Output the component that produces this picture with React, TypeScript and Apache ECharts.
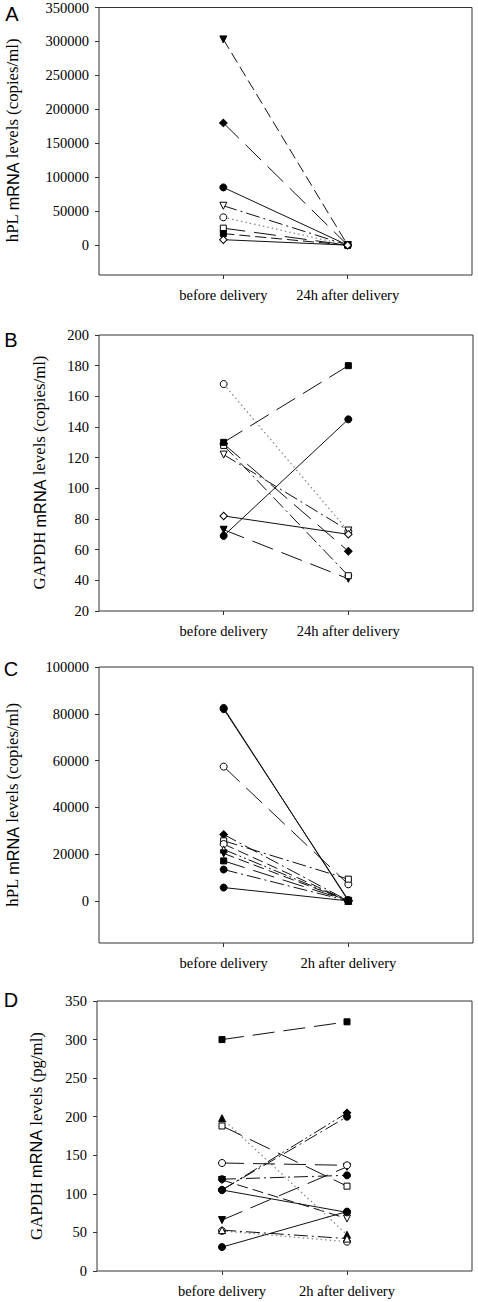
import React, { useEffect, useRef } from "react";
import * as echarts from "echarts";

// ---------- data ----------
const CATS_24H = ["before delivery", "24h after delivery"];
const CATS_2H = ["before delivery", "2h after delivery"];

// Panel A: hPL mRNA (copies/ml), before vs 24h after delivery
const A_BEFORE = [303000, 180000, 85000, 58000, 41000, 25000, 17000, 8000];
const A_AFTER = [0, 0, 0, 0, 0, 0, 0, 0];
const A_TICKS = [0, 50000, 100000, 150000, 200000, 250000, 300000, 350000];

// Panel B: GAPDH mRNA (copies/ml), before vs 24h after delivery
const B_BEFORE = [73, 129, 128, 168, 122, 82, 130, 69];
const B_AFTER = [41, 59, 43, 72, 72.5, 70, 180, 145];

// Panel C: hPL mRNA (copies/ml), before vs 2h after delivery
const C_BEFORE = [82500, 82000, 57400, 28400, 25700, 24300, 22000, 20300, 17100, 13400, 5700];
const C_AFTER = [0, 400, 7100, 0, 9300, 0, 0, 0, 0, 0, 0];
const C_TICKS = [0, 20000, 40000, 60000, 80000, 100000];

// Panel D: GAPDH mRNA (pg/ml), before vs 2h after delivery
const D_BEFORE = [66, 118, 105, 300, 198, 188, 140, 119, 105, 105, 52, 53, 31];
const D_AFTER = [135, 68, 76, 323, 47, 110, 137, 124, 205, 200, 38, 42, 77];

// ---------- styles (marker shape, fill, line pattern) ----------
type St = [string, boolean, string];
const A_STYLE: St[] = [
  ["triDown", true, "dash"],
  ["diamond", true, "longDash"],
  ["circle", true, "solid"],
  ["triDown", false, "dashDot"],
  ["circle", false, "dotted"],
  ["square", false, "longDash"],
  ["square", true, "dash"],
  ["diamond", false, "solid"],
];
const B_STYLE: St[] = [
  ["triDown", true, "longDash"],
  ["diamond", true, "longDash"],
  ["square", false, "dashDot"],
  ["circle", false, "dotted"],
  ["triDown", false, "dashDot"],
  ["diamond", false, "solid"],
  ["square", true, "longDash"],
  ["circle", true, "solid"],
];
const C_STYLE: St[] = [
  ["circle", true, "solid"],
  ["circle", true, "solid"],
  ["circle", false, "longDash"],
  ["diamond", true, "dashDot"],
  ["square", false, "dashDot"],
  ["circle", false, "dash"],
  ["triUp", false, "dashDotDot"],
  ["triDown", true, "dash"],
  ["square", true, "longDash"],
  ["circle", true, "dashDot"],
  ["circle", true, "solid"],
];
const D_STYLE: St[] = [
  ["triDown", true, "longDash"],
  ["triDown", false, "dash"],
  ["circle", false, "solid"],
  ["square", true, "longDash"],
  ["triUp", true, "dotted"],
  ["square", false, "longDash"],
  ["circle", false, "longDash"],
  ["circle", true, "dashDot"],
  ["diamond", true, "dashDotDot"],
  ["circle", true, "dashDot"],
  ["circle", false, "dotted"],
  ["triUp", false, "dashDot"],
  ["circle", true, "solid"],
];

const DASHES: Record<string, any> = {
  solid: "solid",
  dash: [11, 5],
  longDash: [22, 9],
  dashDot: [14, 4, 2, 4],
  dashDotDot: [14, 3, 2, 3, 2, 3],
  dotted: [1.5, 3],
};

const SYMBOLS: Record<string, { symbol: string; size: number; rotate: number }> = {
  circle: { symbol: "circle", size: 7, rotate: 0 },
  square: { symbol: "rect", size: 6, rotate: 0 },
  diamond: { symbol: "rect", size: 5.3, rotate: 45 },
  triUp: { symbol: "triangle", size: 7, rotate: 0 },
  triDown: { symbol: "triangle", size: 7, rotate: 180 },
};

const SERIF = "'Liberation Serif', 'Times New Roman', serif";
const SANS = "'Liberation Sans', Arial, sans-serif";
const AXIS_COLOR = "#333";

function makeSeries(gi: number, before: number[], after: number[], styles: St[]) {
  return before.map((b, i) => {
    const [shape, filled, dash] = styles[i];
    const s = SYMBOLS[shape];
    const isDot = dash === "dotted";
    return {
      type: "line",
      xAxisIndex: gi,
      yAxisIndex: gi,
      data: [
        [1, b],
        [2, after[i]],
      ],
      symbol: s.symbol,
      symbolSize: s.size,
      symbolRotate: s.rotate,
      showSymbol: true,
      silent: true,
      itemStyle: {
        color: filled ? "#000" : "#fff",
        borderColor: "#000",
        borderWidth: 1,
      },
      lineStyle: {
        color: isDot ? "#8a8a8a" : "#111",
        width: isDot ? 1.3 : 1,
        type: DASHES[dash],
      },
      z: 2 + i * 0.01,
    };
  });
}

function xAxis(gi: number, cats: string[]) {
  return {
    gridIndex: gi,
    type: "value",
    min: 0,
    max: 3,
    axisLine: { show: false, onZero: false },
    splitLine: { show: false },
    axisTick: {
      show: true,
      customValues: [1, 2],
      length: 4,
      lineStyle: { color: AXIS_COLOR },
    },
    axisLabel: {
      customValues: [1, 2],
      margin: 12,
      fontFamily: SERIF,
      fontSize: 14.5,
      color: "#000",
      formatter: (v: number) => cats[Math.round(v) - 1] ?? "",
    },
  };
}

function yAxis(gi: number, min: number, max: number, ticks: number[]) {
  return {
    gridIndex: gi,
    type: "value",
    min,
    max,
    axisLine: { show: false, onZero: false },
    splitLine: { show: false },
    axisTick: {
      show: true,
      customValues: ticks,
      length: 4,
      lineStyle: { color: AXIS_COLOR },
    },
    axisLabel: {
      customValues: ticks,
      margin: 10,
      fontFamily: SERIF,
      fontSize: 14.5,
      color: "#000",
      formatter: (v: number) => String(v),
    },
  };
}

function rangeTicks(min: number, max: number, step: number) {
  const out: number[] = [];
  for (let v = min; v <= max + 1e-9; v += step) out.push(v);
  return out;
}

function yTitle(x: number, y: number, pre: string, post: string) {
  return {
    type: "text",
    x,
    y,
    rotation: Math.PI / 2,
    silent: true,
    style: {
      text: `{s|${pre}}{n|mRNA}{s|${post}}`,
      align: "center",
      verticalAlign: "middle",
      fill: "#000",
      rich: {
        s: { fontFamily: SERIF, fontSize: 16.8, fill: "#000" },
        n: { fontFamily: SANS, fontSize: 16.3, fill: "#000" },
      },
    },
  };
}

function letter(x: number, y: number, t: string) {
  return {
    type: "text",
    x,
    y,
    silent: true,
    style: {
      text: t,
      fontFamily: SANS,
      fontSize: 20,
      fill: "#000",
      align: "center",
      verticalAlign: "middle",
    },
  };
}

export default function App() {
  const ref = useRef<HTMLDivElement>(null);
  useEffect(() => {
    if (!ref.current) return;
    const chart = echarts.init(ref.current, null, { renderer: "svg" });
    const gridBase = {
      show: true,
      borderColor: AXIS_COLOR,
      borderWidth: 1,
      backgroundColor: "transparent",
    };
    chart.setOption({
      animation: false,
      backgroundColor: "#fff",
      grid: [
        { ...gridBase, left: 99, top: 7, width: 373, height: 268 },
        { ...gridBase, left: 99, top: 335, width: 374, height: 276 },
        { ...gridBase, left: 99, top: 667, width: 374, height: 276 },
        { ...gridBase, left: 97, top: 1001, width: 375, height: 270 },
      ],
      xAxis: [xAxis(0, CATS_24H), xAxis(1, CATS_24H), xAxis(2, CATS_2H), xAxis(3, CATS_2H)],
      yAxis: [
        yAxis(0, -44000, 350000, A_TICKS),
        yAxis(1, 20, 200, rangeTicks(20, 200, 20)),
        yAxis(2, -18000, 100000, C_TICKS),
        yAxis(3, 0, 350, rangeTicks(0, 350, 50)),
      ],
      series: [
        ...makeSeries(0, A_BEFORE, A_AFTER, A_STYLE),
        ...makeSeries(1, B_BEFORE, B_AFTER, B_STYLE),
        ...makeSeries(2, C_BEFORE, C_AFTER, C_STYLE),
        ...makeSeries(3, D_BEFORE, D_AFTER, D_STYLE),
      ],
      graphic: [
        letter(12, 14, "A"),
        letter(11, 340, "B"),
        letter(11, 669, "C"),
        letter(11, 1000, "D"),
        yTitle(12.5, 140.5, "hPL ", " levels (copies/ml)"),
        yTitle(39.5, 472.5, "GAPDH ", " levels (copies/ml)"),
        yTitle(12.5, 805, "hPL ", " levels (copies/ml)"),
        yTitle(36, 1136, "GAPDH ", " levels (pg/ml)"),
      ],
    });
    return () => chart.dispose();
  }, []);
  return (
    <div
      ref={ref}
      style={{ position: "absolute", left: 0, top: 0, width: 478, height: 1302 }}
    />
  );
}
